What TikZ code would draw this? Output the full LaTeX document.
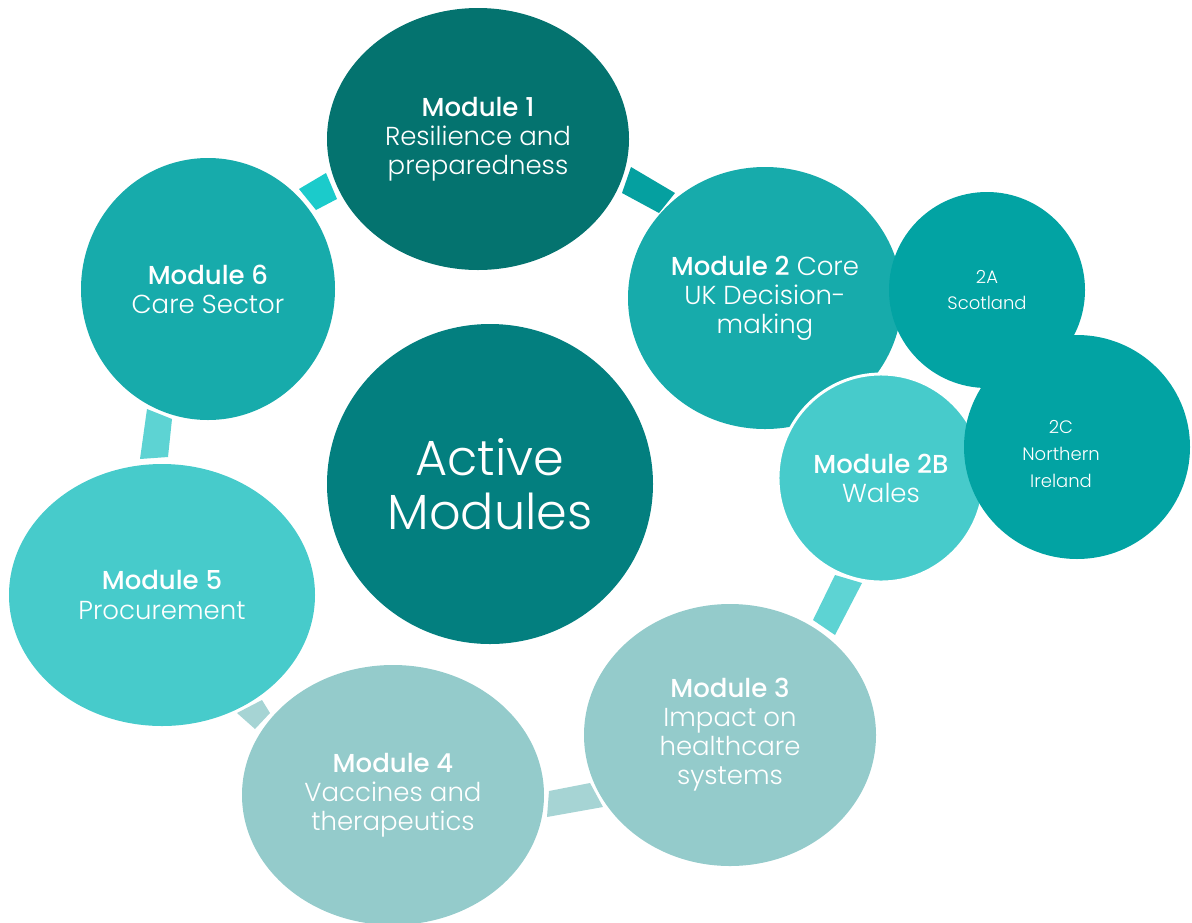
\documentclass[tikz,border=0pt]{standalone}
\usepackage{fontspec}
\setmainfont{Poppins Light}[BoldFont={Poppins Medium}]
\usetikzlibrary{shapes.geometric}
\definecolor{cdark}{HTML}{04736F}
\definecolor{ccenter}{HTML}{037F7F}
\definecolor{cmid}{HTML}{17ABAB}
\definecolor{csub}{HTML}{02A3A3}
\definecolor{clight}{HTML}{47CBCB}
\definecolor{cpale}{HTML}{94CBCB}
\definecolor{kA}{HTML}{1BCBCB}
\definecolor{kB}{HTML}{05A0A0}
\definecolor{kC}{HTML}{5DD3D3}
\definecolor{kD}{HTML}{A6D4D4}
\tikzset{
  mod/.style={ellipse,inner sep=0pt,text=white,align=center,font=\fontsize{19.5}{21.8}\selectfont},
  sub/.style={ellipse,inner sep=0pt,text=white,align=center,font=\fontsize{13.5}{20}\selectfont},
  px/.style 2 args={minimum width=#1*0.75pt,minimum height=#2*0.75pt}
}
\begin{document}
\begin{tikzpicture}[x=0.75pt,y=-0.75pt]
\useasboundingbox (0,0) rectangle (1192,922);
% connectors
\fill[kA] (299,189) -- (326,173) -- (337,199) -- (316,210) -- cycle;
\fill[kB] (631,167) -- (675,193) -- (659,213) -- (622,193) -- cycle;
\fill[kC] (147,409) -- (172,419) -- (168,457) -- (140,459) -- cycle;
\fill[kD] (237,713) -- (262,700) -- (270,713) -- (255,729) -- cycle;
\fill[kD] (549,791) -- (590,783) -- (603,807) -- (547,817) -- cycle;
\fill[kC] (835,575) -- (862,583) -- (835,635) -- (813,620) -- cycle;
% modules
\node[mod,fill=cdark,px={302}{262}] (m1) at (478,139)
  {\textbf{Module 1}\\Resilience and\\preparedness};
\node[mod,fill=cmid,px={274}{262}] (m2) at (765,298)
  {\textbf{Module 2} Core\\UK Decision-\\making};
\node[mod,fill=clight,draw=white,line width=2.2pt,px={206}{208}] (m2b) at (881,478)
  {\textbf{Module 2B}\\Wales};
\node[sub,fill=csub,px={196}{196}] (m2a) at (987,290)
  {2A\\Scotland};
\node[sub,fill=csub,px={226}{224}] (m2c) at (1077,447) {};
\node[sub] (t2c) at (1061,454) {2C\\Northern\\Ireland};
\node[mod,fill=cpale,px={292}{262}] (m3) at (730,735)
  {\textbf{Module 3}\\Impact on\\healthcare\\systems};
\node[mod,fill=cpale,px={302}{260}] (m4) at (393,795)
  {\textbf{Module 4}\\Vaccines and\\therapeutics};
\node[mod,fill=clight,px={306}{262}] (m5) at (162,595)
  {\textbf{Module 5}\\Procurement};
\node[mod,fill=cmid,px={254}{262}] (m6) at (208,289)
  {\textbf{Module 6}\\Care Sector};
\node[ellipse,inner sep=0pt,fill=ccenter,text=white,align=center,px={326}{320},font=\fontsize{37}{41}\selectfont] (ctr) at (490,484)
  {Active\\Modules};
\end{tikzpicture}
\end{document}
